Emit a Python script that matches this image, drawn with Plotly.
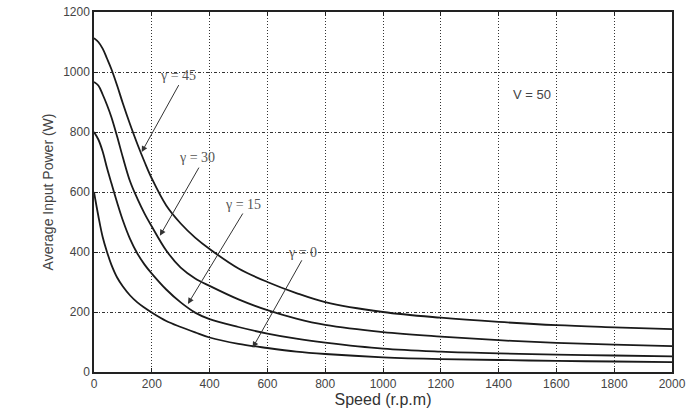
import plotly.graph_objects as go

speed = [0, 15, 30, 45, 60, 80, 100, 125, 150, 175, 200, 250, 300, 350, 400,
         500, 600, 700, 800, 1000, 1200, 1400, 1600, 1800, 2000]

p_g45 = [1113, 1100, 1078, 1045, 1010, 955, 895, 825, 760, 700, 645, 555, 495,
         448, 410, 345, 300, 263, 233, 200, 181, 167, 156, 149, 143]
p_g30 = [967, 955, 925, 890, 850, 785, 715, 635, 578, 528, 485, 405, 348,
         312, 287, 242, 206, 178, 157, 133, 118, 106, 97, 91, 86]
p_g15 = [800, 775, 735, 680, 630, 565, 505, 443, 395, 358, 328, 275, 232,
         198, 176, 150, 128, 111, 98, 78, 68, 62, 58, 55, 52]
p_g0 = [600, 520, 450, 400, 358, 315, 285, 255, 232, 214, 198, 170, 150,
        132, 115, 94, 80, 68, 60, 49, 43, 40, 37, 35, 33]

series = [p_g45, p_g30, p_g15, p_g0]

x_ticks = [0, 200, 400, 600, 800, 1000, 1200, 1400, 1600, 1800, 2000]
y_ticks = [0, 200, 400, 600, 800, 1000, 1200]

# labels: (text, label_x, label_y, tail_x, tail_y, tip_x, tip_y)
labels = [
    ("γ = 45", 290, 989, 297, 963, 165, 733),
    ("γ = 30", 356, 714, 367, 688, 228, 454),
    ("γ = 15", 515, 558, 519, 535, 325, 227),
    ("γ = 0", 723, 399, 723, 379, 549, 81),
]

fig = go.Figure()
for ys in series:
    fig.add_trace(go.Scatter(x=speed, y=ys, mode="lines",
                             line=dict(color="#1a1a1a", width=1.8, shape="spline", smoothing=1.0),
                             showlegend=False, hoverinfo="skip"))

for text, lx, ly, tx, ty, px, py in labels:
    fig.add_annotation(x=px, y=py, ax=tx, ay=ty, xref="x", yref="y", axref="x", ayref="y",
                       text=" ", showarrow=True, arrowhead=2, arrowsize=1.2, arrowwidth=1,
                       arrowcolor="#333", standoff=0, startstandoff=0,
                       font=dict(size=1))
    fig.add_annotation(x=lx, y=ly, xref="x", yref="y", text=text, showarrow=False,
                       bgcolor="rgba(255,255,255,0)",
                       font=dict(family="Liberation Serif", size=14, color="#555"))

fig.add_annotation(x=1516, y=924, xref="x", yref="y", text="V = 50", showarrow=False,
                   font=dict(family="Liberation Sans", size=13, color="#444"))

axis_common = dict(showline=True, linecolor="#222", linewidth=1.5, mirror="ticks",
                   ticks="inside", ticklen=4, tickcolor="#222", zeroline=False,
                   showgrid=True, gridcolor="#333", gridwidth=1,
                   tickfont=dict(family="Liberation Sans", size=12, color="#444"))

fig.update_xaxes(range=[0, 2000], tickvals=x_ticks, griddash="1px,2px",
                 title=dict(text="Speed (r.p.m)", standoff=2,
                            font=dict(family="Liberation Sans", size=16, color="#333")),
                 **axis_common)
fig.update_yaxes(range=[0, 1200], tickvals=y_ticks, griddash="3px,2px,1px,2px",
                 title=dict(text="Average Input Power (W)", standoff=6,
                            font=dict(family="Liberation Sans", size=14, color="#444")),
                 **axis_common)

fig.update_layout(width=695, height=409, margin=dict(l=94, r=23, t=5, b=34),
                  plot_bgcolor="white", paper_bgcolor="white")

fig.write_html("out.html")
